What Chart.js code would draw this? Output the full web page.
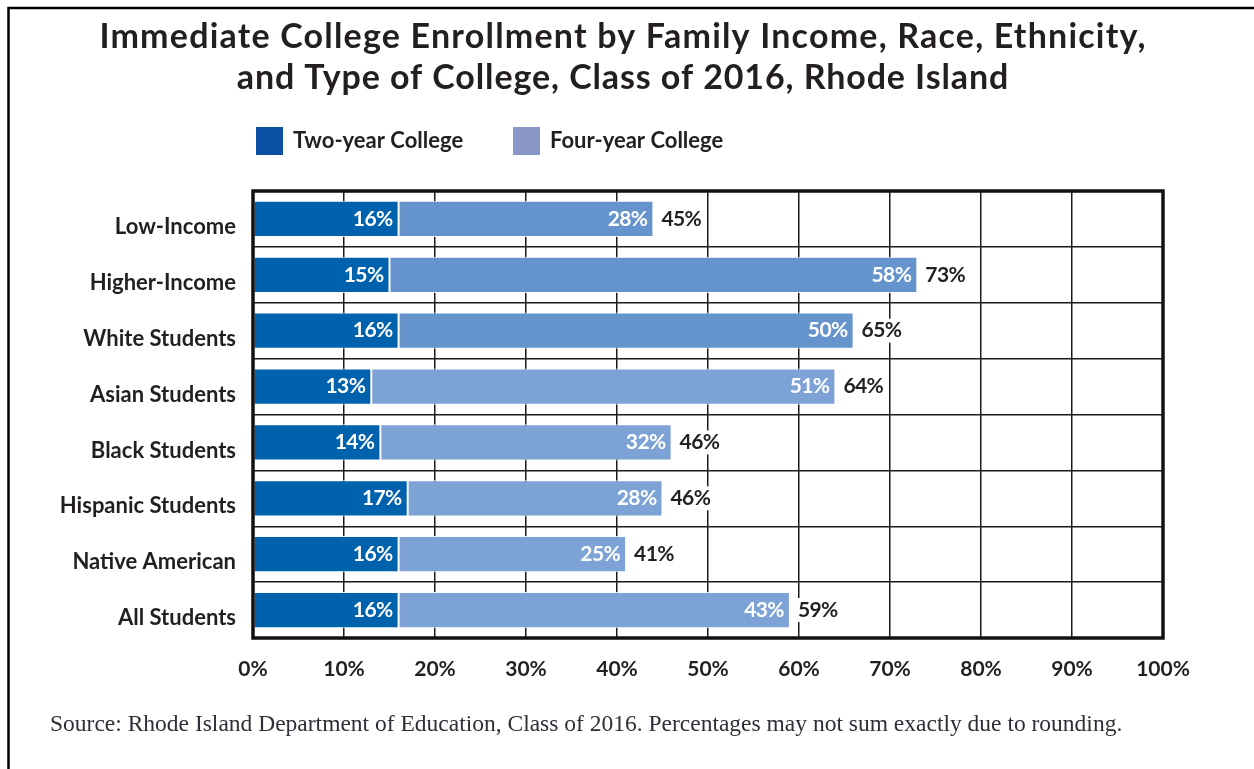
<!DOCTYPE html>
<html>
<head>
<meta charset="utf-8">
<title>Immediate College Enrollment, Class of 2016, Rhode Island</title>
<script src="https://cdn.jsdelivr.net/npm/chart.js@4/dist/chart.umd.min.js"></script>
<style>
  html, body { margin: 0; padding: 0; background: #ffffff; }
  #wrap { position: relative; width: 1254px; height: 769px; }
  canvas { display: block; }
</style>
</head>
<body>
<div id="wrap"><canvas id="chart" width="1254" height="769"></canvas></div>
<script>
// Enrollment shares (percent of graduates)
const categories = [
  'Low-Income', 'Higher-Income', 'White Students', 'Asian Students',
  'Black Students', 'Hispanic Students', 'Native American', 'All Students'
];
const twoYear  = [16, 15, 16, 13, 14, 17, 16, 16];
const fourYear = [28, 58, 50, 51, 32, 28, 25, 43];
const totals   = [45, 73, 65, 64, 46, 46, 41, 59];
const xTicks   = [0, 10, 20, 30, 40, 50, 60, 70, 80, 90, 100];

const titleLines = [
  'Immediate College Enrollment by Family Income, Race, Ethnicity,',
  'and Type of College, Class of 2016, Rhode Island'
];
const sourceNote = 'Source: Rhode Island Department of Education, Class of 2016. Percentages may not sum exactly due to rounding.';

const INK = '#231f20';
const SANS = 'Lato, "Open Sans", sans-serif';
const SERIF = '"Liberation Serif", "DejaVu Serif", serif';

const twoColor = '#0062ad';
const fourColors = ['#6593cb', '#6593cb', '#6593cb', '#7da2d5', '#7da2d5', '#7da2d5', '#7da2d5', '#7da2d5'];
const legendSwatches = ['#0b4fa2', '#8896c8'];

// Title, legend, frame, value labels and source line
const decorations = {
  id: 'decorations',
  afterDatasetsDraw(chart) {
    const ctx = chart.ctx;
    const area = chart.chartArea;
    ctx.save();

    // plot frame
    ctx.strokeStyle = '#111111';
    ctx.lineWidth = 3.5;
    ctx.strokeRect(area.left, area.top, area.right - area.left, area.bottom - area.top);

    // segment labels (inside end, white) and totals (outside, dark on white)
    ctx.font = 'bold 21px ' + SANS;
    ctx.letterSpacing = '-0.6px';
    ctx.textBaseline = 'middle';
    chart.data.datasets.forEach((ds, di) => {
      const meta = chart.getDatasetMeta(di);
      meta.data.forEach((bar, i) => {
        ctx.fillStyle = '#ffffff';
        ctx.textAlign = 'right';
        ctx.fillText(ds.data[i] + '%', bar.x - 6, bar.y);
      });
    });
    const top = chart.getDatasetMeta(1);
    top.data.forEach((bar, i) => {
      const txt = totals[i] + '%';
      const w = ctx.measureText(txt).width;
      ctx.fillStyle = '#ffffff';
      ctx.fillRect(bar.x + 5, bar.y - 12, w + 6, 24);
      ctx.fillStyle = INK;
      ctx.textAlign = 'left';
      ctx.fillText(txt, bar.x + 8, bar.y);
    });
    ctx.letterSpacing = '0px';

    // title
    ctx.fillStyle = INK;
    ctx.textAlign = 'center';
    ctx.textBaseline = 'alphabetic';
    ctx.font = 'bold 34px ' + SANS;
    ctx.letterSpacing = '1.2px';
    ctx.fillText(titleLines[0], 623, 48);
    ctx.letterSpacing = '0.9px';
    ctx.fillText(titleLines[1], 623, 89);
    ctx.letterSpacing = '0px';

    // legend
    ctx.font = 'bold 22px ' + SANS;
    ctx.textAlign = 'left';
    ctx.textBaseline = 'middle';
    const legendX = [256, 513];
    chart.data.datasets.forEach((ds, di) => {
      ctx.fillStyle = legendSwatches[di];
      ctx.fillRect(legendX[di], 127, 27, 28);
      ctx.fillStyle = INK;
      ctx.fillText(ds.label, legendX[di] + 37, 141);
    });

    // source line
    ctx.font = '23.5px ' + SERIF;
    ctx.fillStyle = '#2e2e38';
    ctx.textBaseline = 'alphabetic';
    ctx.fillText(sourceNote, 50, 731);

    // page border (top and left)
    ctx.strokeStyle = '#000000';
    ctx.lineWidth = 2.5;
    ctx.beginPath();
    ctx.moveTo(8.5, 769);
    ctx.lineTo(8.5, 8);
    ctx.lineTo(1254, 8);
    ctx.stroke();

    ctx.restore();
  }
};

new Chart(document.getElementById('chart'), {
  type: 'bar',
  data: {
    labels: categories,
    datasets: [
      {
        label: 'Two-year College',
        data: twoYear,
        backgroundColor: twoColor,
        borderColor: 'rgba(255,255,255,0.85)',
        borderWidth: 1,
        borderSkipped: false
      },
      {
        label: 'Four-year College',
        data: fourYear,
        backgroundColor: fourColors,
        borderColor: 'rgba(255,255,255,0.85)',
        borderWidth: 1,
        borderSkipped: false
      }
    ]
  },
  options: {
    indexAxis: 'y',
    responsive: false,
    animation: false,
    layout: { padding: { top: 191, left: 0, right: 91, bottom: 81 } },
    datasets: { bar: { categoryPercentage: 1, barPercentage: 0.65 } },
    plugins: {
      legend: { display: false },
      title: { display: false },
      tooltip: { enabled: false }
    },
    scales: {
      x: {
        stacked: true,
        min: 0,
        max: 100,
        afterBuildTicks(scale) { scale.ticks = xTicks.map(v => ({ value: v })); },
        afterFit(scale) { scale.height = 50; },
        grid: { color: '#1a1a1a', lineWidth: 1.5, drawTicks: false },
        border: { display: false },
        ticks: {
          padding: 19,
          color: INK,
          font: { family: SANS, size: 21, weight: 'bold' },
          callback: v => v + '%'
        }
      },
      y: {
        stacked: true,
        afterFit(scale) { scale.width = 253; },
        grid: { color: '#1a1a1a', lineWidth: 1.5, drawTicks: false, offset: true },
        border: { display: false },
        ticks: {
          padding: 17,
          labelOffset: 8,
          color: INK,
          font: { family: SANS, size: 22, weight: 'bold' }
        }
      }
    }
  },
  plugins: [decorations]
});
</script>
</body>
</html>
